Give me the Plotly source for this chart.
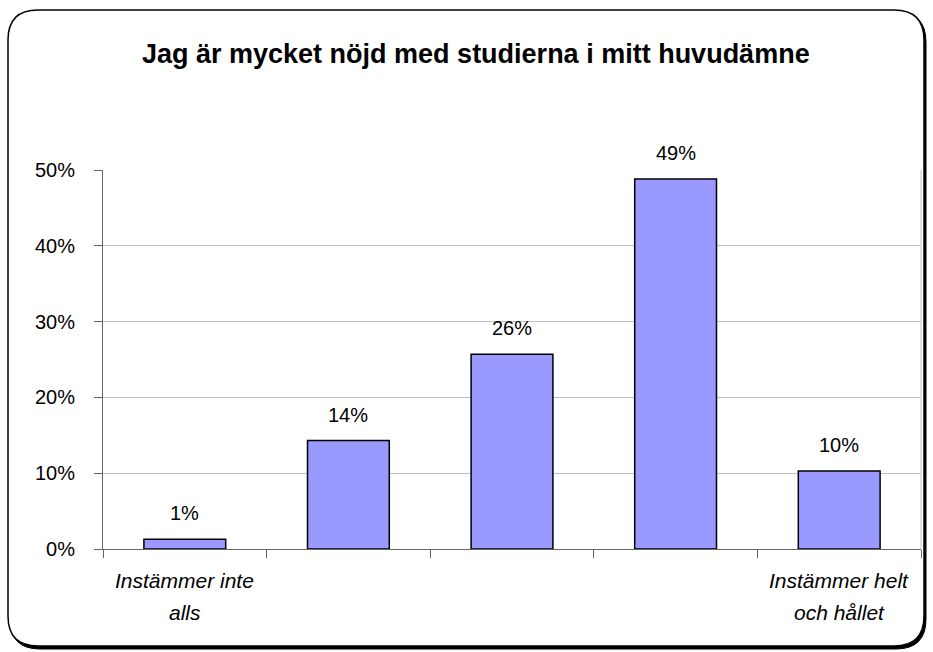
import plotly.graph_objects as go

# ---- data ----
categories = ["Instämmer inte alls", "kat2", "kat3", "kat4", "Instämmer helt och hållet"]
values = [0.013, 0.143, 0.257, 0.488, 0.103]
value_labels = [f"{round(v * 100)}%" for v in values]
cat_label_lines = [["Instämmer inte", "alls"], [], [], [], ["Instämmer helt", "och hållet"]]
y_tickvals = [0, 0.1, 0.2, 0.3, 0.4, 0.5]
y_ticktext = ["0%", "10%", "20%", "30%", "40%", "50%"]
title_text = "Jag är mycket nöjd med studierna i mitt huvudämne"

W, H = 933, 652
L, R, T, B = 103, 12, 170, 103
PW = W - L - R
PH = H - T - B
FONT = "Liberation Sans, Arial, sans-serif"


def xp(px):
    return (px - L) / PW


def yp(py):
    return (H - B - py) / PH


def rounded_path(x0, y0, x1, y1, r):
    pts = [
        f"M {xp(x0 + r)},{yp(y0)}",
        f"L {xp(x1 - r)},{yp(y0)}",
        f"Q {xp(x1)},{yp(y0)} {xp(x1)},{yp(y0 + r)}",
        f"L {xp(x1)},{yp(y1 - r)}",
        f"Q {xp(x1)},{yp(y1)} {xp(x1 - r)},{yp(y1)}",
        f"L {xp(x0 + r)},{yp(y1)}",
        f"Q {xp(x0)},{yp(y1)} {xp(x0)},{yp(y1 - r)}",
        f"L {xp(x0)},{yp(y0 + r)}",
        f"Q {xp(x0)},{yp(y0)} {xp(x0 + r)},{yp(y0)}",
        "Z",
    ]
    return " ".join(pts)


fig = go.Figure()
fig.add_trace(go.Bar(
    x=categories,
    y=values,
    width=0.5,
    marker=dict(color="#9999FF", line=dict(color="black", width=1.5)),
    hoverinfo="skip",
))

annotations = []
for i, (v, t) in enumerate(zip(values, value_labels)):
    annotations.append(dict(
        x=i, y=v, xref="x", yref="y", text=t, showarrow=False,
        yanchor="middle", yshift=26, font=dict(family=FONT, size=20, color="black"),
    ))
for i, lines in enumerate(cat_label_lines):
    for j, line in enumerate(lines):
        annotations.append(dict(
            x=i, y=0, xref="x", yref="y", text=line, showarrow=False,
            yanchor="middle", yshift=-31 - 32 * j,
            font=dict(family=FONT, size=21, color="black", style="italic"),
        ))
annotations.append(dict(
    x=xp(476), y=yp(54), xref="paper", yref="paper", text=f"<b>{title_text}</b>",
    showarrow=False, xanchor="center", yanchor="middle",
    font=dict(family=FONT, size=27, color="black"),
))

shapes = [
    dict(type="path", path=rounded_path(10, 12, 926, 649, 30), xref="paper", yref="paper",
         fillcolor="black", line=dict(color="black", width=1), layer="below"),
    dict(type="path", path=rounded_path(8, 10, 924, 646, 30), xref="paper", yref="paper",
         fillcolor="white", line=dict(color="black", width=1.5), layer="below"),
    dict(type="line", x0=1, x1=1, y0=0, y1=1, xref="paper", yref="paper",
         line=dict(color="#C0C0C0", width=1)),
]

fig.update_layout(
    width=W, height=H,
    margin=dict(l=L, r=R, t=T, b=B, pad=0),
    paper_bgcolor="white",
    plot_bgcolor="rgba(0,0,0,0)",
    showlegend=False,
    annotations=annotations,
    shapes=shapes,
    font=dict(family=FONT, size=20, color="black"),
    bargap=0.5,
)
fig.update_xaxes(
    type="category",
    categoryorder="array", categoryarray=categories,
    showticklabels=False,
    tickson="boundaries",
    ticks="outside", ticklen=8, tickcolor="#666", tickwidth=1,
    showline=True, linecolor="#666", linewidth=1,
    showgrid=False, zeroline=False,
    range=[-0.5, 4.5],
)
fig.update_yaxes(
    range=[0, 0.5],
    tickvals=y_tickvals, ticktext=y_ticktext,
    ticks="outside", ticklen=8, tickcolor="#666", tickwidth=1,
    ticklabelstandoff=15,
    tickfont=dict(family=FONT, size=20, color="black"),
    showline=True, linecolor="#666", linewidth=1,
    showgrid=True, gridcolor="#C0C0C0", gridwidth=1,
    zeroline=False,
)

fig.write_html(
    "out.html",
    config={"displayModeBar": False},
    post_script="document.body.style.margin='0px';document.body.style.overflow='hidden';",
)
